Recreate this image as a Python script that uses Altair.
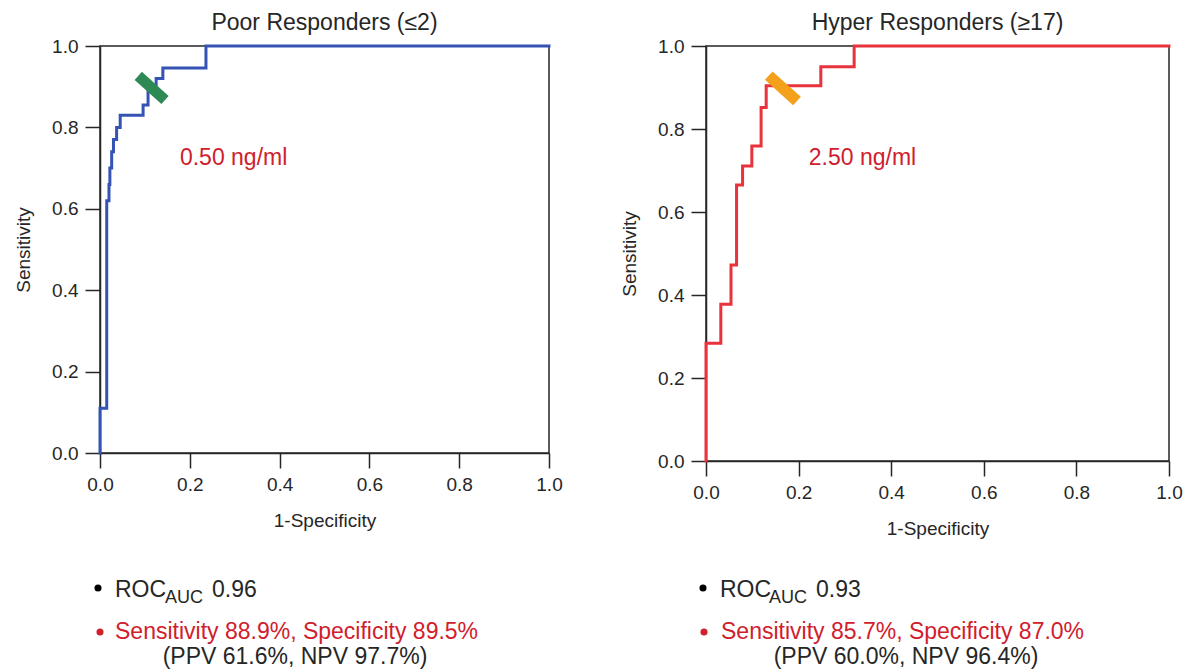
import altair as alt
import pandas as pd

# ---------------- data ----------------
poor_fpr = [0.0, 0.0, 0.015, 0.015, 0.02, 0.02, 0.022, 0.022, 0.026, 0.026, 0.03, 0.03,
            0.037, 0.037, 0.045, 0.045, 0.096, 0.096, 0.107, 0.107, 0.125, 0.125, 0.14,
            0.14, 0.236, 0.236, 1.0]
poor_tpr = [0.0, 0.11, 0.11, 0.62, 0.62, 0.66, 0.66, 0.70, 0.70, 0.74, 0.74, 0.77,
            0.77, 0.80, 0.80, 0.83, 0.83, 0.855, 0.855, 0.89, 0.89, 0.92, 0.92,
            0.946, 0.946, 1.0, 1.0]

hyper_fpr = [0.0, 0.0, 0.032, 0.032, 0.054, 0.054, 0.066, 0.066, 0.079, 0.079, 0.099,
             0.099, 0.119, 0.119, 0.13, 0.13, 0.248, 0.248, 0.32, 0.32, 1.0]
hyper_tpr = [0.0, 0.284, 0.284, 0.378, 0.378, 0.472, 0.472, 0.665, 0.665, 0.711, 0.711,
             0.759, 0.759, 0.852, 0.852, 0.904, 0.904, 0.95, 0.95, 1.0, 1.0]

cut_fpr = [0.115, 0.166]
cut_tpr = [0.897, 0.898]
cut_labels = ["0.50 ng/ml", "2.50 ng/ml"]

titles = ["Poor Responders (\u22642)", "Hyper Responders (\u226517)"]
auc_values = ["0.96", "0.93"]
sens_spec = ["Sensitivity 88.9%, Specificity 89.5%", "Sensitivity 85.7%, Specificity 87.0%"]
ppv_npv = ["(PPV 61.6%, NPV 97.7%)", "(PPV 60.0%, NPV 96.4%)"]

tick_values = [0.0, 0.2, 0.4, 0.6, 0.8, 1.0]

FONT = "Liberation Sans"
DARK = "#262626"
RED_TXT = "#d0202c"

BAR = "M-1,-0.3L1,-0.3L1,0.3L-1,0.3Z"


def panel(fpr, tpr, idx, line_color, marker_color, marker_angle, marker_len,
          label_xy, w, h, txt):
    df = pd.DataFrame({"fpr": fpr, "tpr": tpr, "order": list(range(len(fpr)))})
    xs = alt.Scale(domain=[0, 1], nice=False)
    ys = alt.Scale(domain=[0, 1], nice=False)
    xax = alt.Axis(values=tick_values, format=".1f", title="1-Specificity", labelFlush=False)
    yax = alt.Axis(values=tick_values, format=".1f", title="Sensitivity", labelFlush=False)

    line = alt.Chart(df).mark_line(color=line_color, strokeWidth=3,
                                   strokeJoin="miter", strokeCap="square").encode(
        x=alt.X("fpr:Q", scale=xs, axis=xax),
        y=alt.Y("tpr:Q", scale=ys, axis=yax),
        order="order:Q",
    )

    cdf = pd.DataFrame({"fpr": [cut_fpr[idx]], "tpr": [cut_tpr[idx]]})
    marker = alt.Chart(cdf).mark_point(
        shape=BAR, filled=True, fill=marker_color, opacity=1,
        size=marker_len ** 2, angle=marker_angle,
    ).encode(x=alt.X("fpr:Q", scale=xs), y=alt.Y("tpr:Q", scale=ys))

    ldf = pd.DataFrame({"x": [label_xy[0]], "y": [label_xy[1]], "t": [cut_labels[idx]]})
    label = alt.Chart(ldf).mark_text(
        align="left", baseline="middle", font=FONT, fontSize=23, color=RED_TXT
    ).encode(x=alt.X("x:Q", scale=xs), y=alt.Y("y:Q", scale=ys), text="t:N")

    tdf = pd.DataFrame({"k": [0]})
    b = alt.Chart(tdf)
    bul1 = b.mark_point(shape="circle", filled=True, size=50, color="black", opacity=1).encode(
        x=alt.value(txt["bx1"]), y=alt.value(542))
    bul2 = b.mark_point(shape="circle", filled=True, size=50, color=RED_TXT, opacity=1).encode(
        x=alt.value(txt["bx2"]), y=alt.value(586))
    roc = b.mark_text(align="left", baseline="alphabetic", font=FONT, fontSize=23,
                      color=DARK, text="ROC").encode(x=alt.value(txt["roc"]), y=alt.value(551))
    aucs = b.mark_text(align="left", baseline="alphabetic", font=FONT, fontSize=18,
                       color=DARK, text="AUC").encode(x=alt.value(txt["auc"]), y=alt.value(557))
    aucv = b.mark_text(align="left", baseline="alphabetic", font=FONT, fontSize=23,
                       color=DARK, text=auc_values[idx]).encode(x=alt.value(txt["val"]), y=alt.value(551))
    sens = b.mark_text(align="left", baseline="alphabetic", font=FONT, fontSize=23,
                       color=RED_TXT, text=sens_spec[idx]).encode(x=alt.value(txt["sens"]), y=alt.value(593))
    ppv = b.mark_text(align="center", baseline="alphabetic", font=FONT, fontSize=23,
                      color=DARK, text=ppv_npv[idx]).encode(x=alt.value(txt["ppv"]), y=alt.value(618))

    return alt.layer(line, marker, label, bul1, bul2, roc, aucs, aucv, sens, ppv).properties(
        width=w, height=h,
        title=alt.TitleParams(titles[idx], fontSize=23, font=FONT, fontWeight="normal",
                              color=DARK, offset=2, anchor="middle"),
    )


left = panel(poor_fpr, poor_tpr, 0, "#3553b5", "#2e8a55", 42, 36, (0.178, 0.725), 449, 407,
             {"bx1": -2, "bx2": 0, "roc": 15, "auc": 65, "val": 112, "sens": 15, "ppv": 195})
right = panel(hyper_fpr, hyper_tpr, 1, "#e8323c", "#f5a01a", 42, 38, (0.222, 0.730), 463, 415,
              {"bx1": -3, "bx2": -2, "roc": 14, "auc": 63, "val": 110, "sens": 15, "ppv": 200})

chart = alt.hconcat(left, right, spacing=56).properties(
    padding={"left": 5, "top": 3, "right": 0, "bottom": 0}
).configure_view(
    stroke=DARK, strokeWidth=1.5
).configure_axis(
    grid=False, domainColor=DARK, domainWidth=1.5, tickColor=DARK, tickWidth=1.5,
    tickSize=15, labelFont=FONT, labelFontSize=19, labelColor=DARK, labelPadding=7,
    titleFont=FONT, titleFontSize=19, titleFontWeight="normal", titleColor=DARK,
    titlePadding=17,
).configure_axisY(titlePadding=18)

chart.save("out.html", embed_options={"renderer": "svg", "actions": False})
